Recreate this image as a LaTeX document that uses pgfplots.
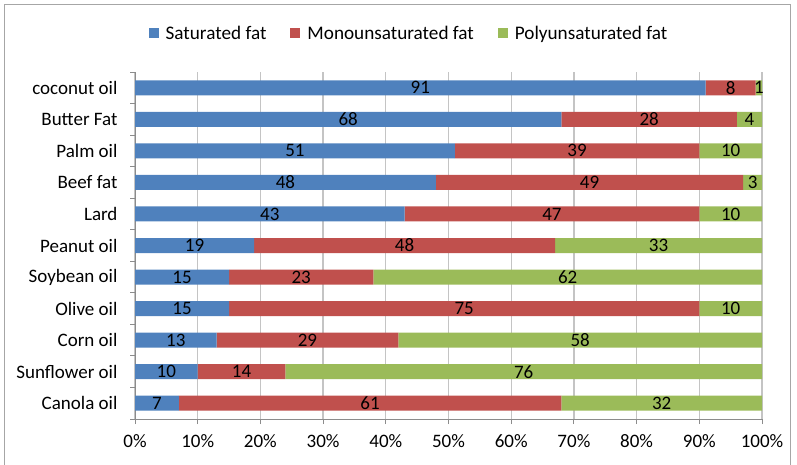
\documentclass[border=0pt]{standalone}
\usepackage{fontspec}
\setmainfont{Carlito}
\usepackage{pgfplots}
\pgfplotsset{compat=1.18}
\usepackage{pgfplotstable}
\definecolor{sat}{HTML}{4F81BD}
\definecolor{mono}{HTML}{C0504D}
\definecolor{poly}{HTML}{9BBB59}
\definecolor{gridc}{HTML}{C4C4C4}
\definecolor{axisc}{HTML}{8C8C8C}
\definecolor{framec}{HTML}{A6A6A6}

\pgfplotstableread{
idx sat mono poly
0 91 8 1
1 68 28 4
2 51 39 10
3 48 49 3
4 43 47 10
5 19 48 33
6 15 23 62
7 15 75 10
8 13 29 58
9 10 14 76
10 7 61 32
}\data

\newcommand{\cf}{\fontsize{19pt}{22pt}\selectfont}
\newcommand{\lf}{\fontsize{19.2pt}{23pt}\selectfont}

\begin{document}
\begin{tikzpicture}[x=1pt,y=1pt]
\path[use as bounding box] (0,0) rectangle (797,464);
\draw[framec, line width=1pt] (4,-5) rectangle (790,459);
\begin{axis}[
  at={(135pt,45pt)}, anchor=south west,
  scale only axis, width=627pt, height=347pt,
  xbar stacked, bar width=15pt,
  xmin=0, xmax=100, ymin=-0.5, ymax=10.5, y dir=reverse,
  ytick={0,...,10},
  yticklabels={coconut oil, Butter Fat, Palm oil, Beef fat, Lard, Peanut oil, Soybean oil, Olive oil, Corn oil, Sunflower oil, Canola oil},
  minor ytick={-0.5,0.5,...,10.5},
  every major y tick/.append style={draw=none},
  xtick={0,10,...,100},
  xticklabel={\pgfmathprintnumber{\tick}\%},
  /pgf/number format/assume math mode=true,
  tick label style={font=\cf, text=black},
  yticklabel style={xshift=-9pt},
  xticklabel style={yshift=-7pt},
  axis lines*=left,
  axis line style={axisc, line width=1pt},
  tick style={axisc, line width=1pt},
  tick align=outside,
  major tick length=5pt, minor tick length=5pt,
  xmajorgrids=true,
  grid style={gridc, line width=1.3pt},
  every axis plot/.append style={legend image code/.code={\fill[##1, draw=none] (0pt,-5pt) rectangle (10pt,5pt);}},
  legend columns=3,
  legend style={at={(0.437,1.112)}, anchor=center, draw=none, fill=none, font=\lf,
    /tikz/every odd column/.append style={column sep=5pt},
    /tikz/every even column/.append style={column sep=22pt}},
]
\addplot[fill=sat, draw=none] table[x=sat, y=idx]{\data};
\addlegendentry{Saturated fat}
\addplot[fill=mono, draw=none] table[x=mono, y=idx]{\data};
\addlegendentry{Monounsaturated fat}
\addplot[fill=poly, draw=none] table[x=poly, y=idx]{\data};
\addlegendentry{Polyunsaturated fat}
\end{axis}
\begin{axis}[
  at={(135pt,45pt)}, anchor=south west,
  scale only axis, width=627pt, height=347pt,
  xmin=0, xmax=100, ymin=-0.5, ymax=10.5, y dir=reverse,
  hide axis, clip=false,
  /pgf/number format/assume math mode=true,
  nodes near coords,
  every node near coord/.style={anchor=center, font=\cf, text=black},
]
\addplot[draw=none, mark=none, point meta=explicit] table[x expr=\thisrow{sat}/2, y=idx, meta=sat]{\data};
\addplot[draw=none, mark=none, point meta=explicit] table[x expr=\thisrow{sat}+\thisrow{mono}/2, y=idx, meta=mono]{\data};
\addplot[draw=none, mark=none, point meta=explicit] table[x expr=\thisrow{sat}+\thisrow{mono}+\thisrow{poly}/2, y=idx, meta=poly]{\data};
\end{axis}
\end{tikzpicture}
\end{document}
